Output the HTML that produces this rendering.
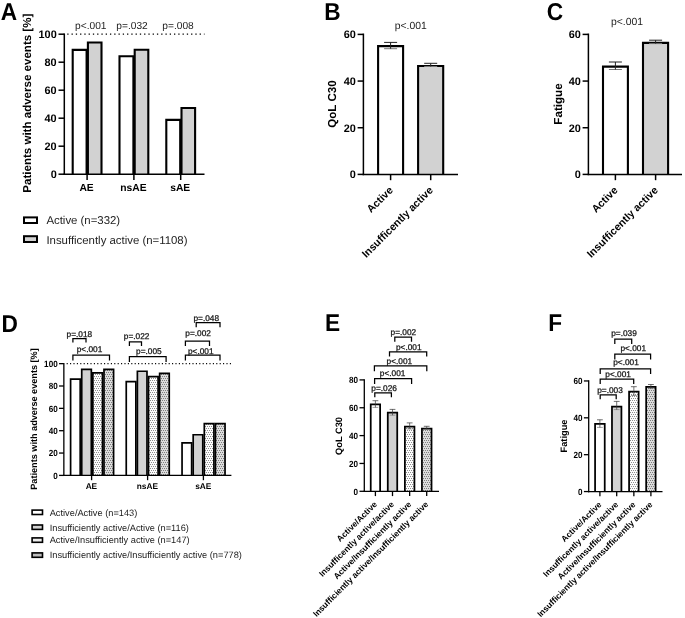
<!DOCTYPE html>
<html><head><meta charset="utf-8"><title>Figure</title>
<style>html,body{margin:0;padding:0;background:#fff;}svg{display:block;text-rendering:geometricPrecision;will-change:transform;transform:translateZ(0);font-family:'Liberation Sans', sans-serif;}</style></head><body>
<svg width="685" height="618" viewBox="0 0 685 618">
<defs>
<pattern id="dotL" width="2" height="4" patternUnits="userSpaceOnUse"><rect width="2" height="4" fill="#fdfdfd"/><rect x="0" y="0" width="1" height="1" fill="#8e8e8e"/><rect x="1" y="2" width="1" height="1" fill="#8e8e8e"/></pattern>
<pattern id="dotG" width="2" height="4" patternUnits="userSpaceOnUse"><rect width="2" height="4" fill="#dcdcdc"/><rect x="0" y="0" width="1" height="1" fill="#7e7e7e"/><rect x="1" y="2" width="1" height="1" fill="#7e7e7e"/></pattern>
</defs>
<rect width="685" height="618" fill="#fff"/>
<text x="0.8" y="19.9" font-size="24.4" font-weight="bold" text-anchor="start" textLength="16.38" lengthAdjust="spacingAndGlyphs" fill="#000">A</text>
<line x1="67.25" y1="34.2" x2="204.5" y2="34.2" stroke="#000" stroke-width="1.2" stroke-dasharray="1.3 2.97" stroke-linecap="butt"/>
<path d="M72.7 174.2V49.9H86.6V174.2" fill="#fff" stroke="#000" stroke-width="2.1" stroke-linejoin="miter"/>
<path d="M87.9 174.2V42.5H101.5V174.2" fill="#d2d2d2" stroke="#000" stroke-width="2.1" stroke-linejoin="miter"/>
<path d="M119.5 174.2V56.2H133.4V174.2" fill="#fff" stroke="#000" stroke-width="2.1" stroke-linejoin="miter"/>
<path d="M134.7 174.2V49.8H148.3V174.2" fill="#d2d2d2" stroke="#000" stroke-width="2.1" stroke-linejoin="miter"/>
<path d="M166.3 174.2V119.9H180.2V174.2" fill="#fff" stroke="#000" stroke-width="2.1" stroke-linejoin="miter"/>
<path d="M181.5 174.2V108.0H195.1V174.2" fill="#d2d2d2" stroke="#000" stroke-width="2.1" stroke-linejoin="miter"/>
<line x1="64.3" y1="33.45" x2="64.3" y2="174.95" stroke="#000" stroke-width="1.5" stroke-linecap="butt"/>
<line x1="63.55" y1="174.2" x2="204.5" y2="174.2" stroke="#000" stroke-width="1.5" stroke-linecap="butt"/>
<line x1="58.5" y1="174.2" x2="64.3" y2="174.2" stroke="#000" stroke-width="1.5" stroke-linecap="butt"/>
<text x="56.7" y="178.1" font-size="10.9" font-weight="bold" text-anchor="end" fill="#000">0</text>
<line x1="58.5" y1="146.2" x2="64.3" y2="146.2" stroke="#000" stroke-width="1.5" stroke-linecap="butt"/>
<text x="56.7" y="150.1" font-size="10.9" font-weight="bold" text-anchor="end" fill="#000">20</text>
<line x1="58.5" y1="118.19999999999999" x2="64.3" y2="118.19999999999999" stroke="#000" stroke-width="1.5" stroke-linecap="butt"/>
<text x="56.7" y="122.1" font-size="10.9" font-weight="bold" text-anchor="end" fill="#000">40</text>
<line x1="58.5" y1="90.19999999999999" x2="64.3" y2="90.19999999999999" stroke="#000" stroke-width="1.5" stroke-linecap="butt"/>
<text x="56.7" y="94.1" font-size="10.9" font-weight="bold" text-anchor="end" fill="#000">60</text>
<line x1="58.5" y1="62.19999999999999" x2="64.3" y2="62.19999999999999" stroke="#000" stroke-width="1.5" stroke-linecap="butt"/>
<text x="56.7" y="66.1" font-size="10.9" font-weight="bold" text-anchor="end" fill="#000">80</text>
<line x1="58.5" y1="34.19999999999999" x2="64.3" y2="34.19999999999999" stroke="#000" stroke-width="1.5" stroke-linecap="butt"/>
<text x="56.7" y="38.09999999999999" font-size="10.9" font-weight="bold" text-anchor="end" fill="#000">100</text>
<line x1="87.1" y1="174.2" x2="87.1" y2="180.0" stroke="#000" stroke-width="1.5" stroke-linecap="butt"/>
<text x="86.6" y="191" font-size="10.3" font-weight="bold" text-anchor="middle" fill="#000">AE</text>
<line x1="133.9" y1="174.2" x2="133.9" y2="180.0" stroke="#000" stroke-width="1.5" stroke-linecap="butt"/>
<text x="133.4" y="191" font-size="10.3" font-weight="bold" text-anchor="middle" fill="#000">nsAE</text>
<line x1="180.7" y1="174.2" x2="180.7" y2="180.0" stroke="#000" stroke-width="1.5" stroke-linecap="butt"/>
<text x="180.2" y="191" font-size="10.3" font-weight="bold" text-anchor="middle" fill="#000">sAE</text>
<text x="90.8" y="28.6" font-size="10.2" text-anchor="middle" fill="#222">p&lt;.001</text>
<text x="132" y="28.6" font-size="10.2" text-anchor="middle" fill="#222">p=.032</text>
<text x="178" y="28.6" font-size="10.2" text-anchor="middle" fill="#222">p=.008</text>
<text x="31.0" y="103.2" font-size="11.55" font-weight="bold" text-anchor="middle" transform="rotate(-90 31.0 103.2)" fill="#000">Patients with adverse events [%]</text>
<rect x="24.0" y="217.4" width="13.0" height="5.6" fill="#fff" stroke="#000" stroke-width="2.0"/>
<text x="46.4" y="224.3" font-size="11.4" text-anchor="start" fill="#222">Active (n=332)</text>
<rect x="24.0" y="236.2" width="13.0" height="5.8" fill="#d2d2d2" stroke="#000" stroke-width="2.0"/>
<text x="46.4" y="243.6" font-size="11.4" text-anchor="start" fill="#222">Insufficently active (n=1108)</text>
<text x="324.3" y="19.9" font-size="24.4" font-weight="bold" text-anchor="start" textLength="16.38" lengthAdjust="spacingAndGlyphs" fill="#000">B</text>
<path d="M378.1 174.4V46.1H403.1V174.4" fill="#fff" stroke="#000" stroke-width="2.1" stroke-linejoin="miter"/>
<path d="M418.1 174.4V66.0H443.2V174.4" fill="#d2d2d2" stroke="#000" stroke-width="2.1" stroke-linejoin="miter"/>
<path d="M384.1 48.7H397.1" fill="none" stroke="#777" stroke-width="1.0"/>
<path d="M384.1 42.4H397.1M390.6 42.4V48.7" fill="none" stroke="#222" stroke-width="1.0"/>
<path d="M424.2 66.5H437.2" fill="none" stroke="#777" stroke-width="1.0"/>
<path d="M424.2 63.3H437.2M430.7 63.3V66.5" fill="none" stroke="#222" stroke-width="1.0"/>
<line x1="363.4" y1="33.55" x2="363.4" y2="175.15" stroke="#000" stroke-width="1.5" stroke-linecap="butt"/>
<line x1="362.65" y1="174.4" x2="458" y2="174.4" stroke="#000" stroke-width="1.5" stroke-linecap="butt"/>
<line x1="357.59999999999997" y1="174.4" x2="363.4" y2="174.4" stroke="#000" stroke-width="1.5" stroke-linecap="butt"/>
<text x="355.79999999999995" y="178.3" font-size="10.9" font-weight="bold" text-anchor="end" fill="#000">0</text>
<line x1="357.59999999999997" y1="127.73333333333335" x2="363.4" y2="127.73333333333335" stroke="#000" stroke-width="1.5" stroke-linecap="butt"/>
<text x="355.79999999999995" y="131.63333333333335" font-size="10.9" font-weight="bold" text-anchor="end" fill="#000">20</text>
<line x1="357.59999999999997" y1="81.06666666666668" x2="363.4" y2="81.06666666666668" stroke="#000" stroke-width="1.5" stroke-linecap="butt"/>
<text x="355.79999999999995" y="84.96666666666668" font-size="10.9" font-weight="bold" text-anchor="end" fill="#000">40</text>
<line x1="357.59999999999997" y1="34.400000000000006" x2="363.4" y2="34.400000000000006" stroke="#000" stroke-width="1.5" stroke-linecap="butt"/>
<text x="355.79999999999995" y="38.300000000000004" font-size="10.9" font-weight="bold" text-anchor="end" fill="#000">60</text>
<line x1="390.6" y1="174.4" x2="390.6" y2="180.20000000000002" stroke="#000" stroke-width="1.5" stroke-linecap="butt"/>
<text x="393.6" y="190.8" font-size="10.6" font-weight="bold" text-anchor="end" transform="rotate(-45 393.6 190.8)" fill="#000">Active</text>
<line x1="430.7" y1="174.4" x2="430.7" y2="180.20000000000002" stroke="#000" stroke-width="1.5" stroke-linecap="butt"/>
<text x="433.7" y="190.8" font-size="10.6" font-weight="bold" text-anchor="end" transform="rotate(-45 433.7 190.8)" fill="#000">Insufficently active</text>
<text x="410.7" y="28.6" font-size="10.4" text-anchor="middle" fill="#222">p&lt;.001</text>
<text x="336.2" y="104" font-size="11.6" font-weight="bold" text-anchor="middle" transform="rotate(-90 336.2 104)" fill="#000">QoL C30</text>
<text x="546.8" y="19.9" font-size="24.4" font-weight="bold" text-anchor="start" textLength="16.38" lengthAdjust="spacingAndGlyphs" fill="#000">C</text>
<path d="M603.0 174.4V66.6H627.9V174.4" fill="#fff" stroke="#000" stroke-width="2.1" stroke-linejoin="miter"/>
<path d="M643.0 174.4V42.9H668.1V174.4" fill="#d2d2d2" stroke="#000" stroke-width="2.1" stroke-linejoin="miter"/>
<path d="M608.9 69.5H621.9" fill="none" stroke="#777" stroke-width="1.0"/>
<path d="M608.9 62.0H621.9M615.4 62.0V69.5" fill="none" stroke="#222" stroke-width="1.0"/>
<path d="M649.1 43.6H662.1" fill="none" stroke="#777" stroke-width="1.0"/>
<path d="M649.1 40.2H662.1M655.6 40.2V43.6" fill="none" stroke="#222" stroke-width="1.0"/>
<line x1="588.4" y1="33.55" x2="588.4" y2="175.15" stroke="#000" stroke-width="1.5" stroke-linecap="butt"/>
<line x1="587.65" y1="174.4" x2="682" y2="174.4" stroke="#000" stroke-width="1.5" stroke-linecap="butt"/>
<line x1="582.6" y1="174.4" x2="588.4" y2="174.4" stroke="#000" stroke-width="1.5" stroke-linecap="butt"/>
<text x="580.8" y="178.3" font-size="10.9" font-weight="bold" text-anchor="end" fill="#000">0</text>
<line x1="582.6" y1="127.73333333333335" x2="588.4" y2="127.73333333333335" stroke="#000" stroke-width="1.5" stroke-linecap="butt"/>
<text x="580.8" y="131.63333333333335" font-size="10.9" font-weight="bold" text-anchor="end" fill="#000">20</text>
<line x1="582.6" y1="81.06666666666668" x2="588.4" y2="81.06666666666668" stroke="#000" stroke-width="1.5" stroke-linecap="butt"/>
<text x="580.8" y="84.96666666666668" font-size="10.9" font-weight="bold" text-anchor="end" fill="#000">40</text>
<line x1="582.6" y1="34.400000000000006" x2="588.4" y2="34.400000000000006" stroke="#000" stroke-width="1.5" stroke-linecap="butt"/>
<text x="580.8" y="38.300000000000004" font-size="10.9" font-weight="bold" text-anchor="end" fill="#000">60</text>
<line x1="615.4" y1="174.4" x2="615.4" y2="180.20000000000002" stroke="#000" stroke-width="1.5" stroke-linecap="butt"/>
<text x="618.4" y="190.8" font-size="10.6" font-weight="bold" text-anchor="end" transform="rotate(-45 618.4 190.8)" fill="#000">Active</text>
<line x1="655.6" y1="174.4" x2="655.6" y2="180.20000000000002" stroke="#000" stroke-width="1.5" stroke-linecap="butt"/>
<text x="658.6" y="190.8" font-size="10.6" font-weight="bold" text-anchor="end" transform="rotate(-45 658.6 190.8)" fill="#000">Insufficently active</text>
<text x="627" y="25.3" font-size="10.4" text-anchor="middle" fill="#222">p&lt;.001</text>
<text x="561.6" y="104" font-size="11.6" font-weight="bold" text-anchor="middle" transform="rotate(-90 561.6 104)" fill="#000">Fatigue</text>
<text x="1.6" y="331.5" font-size="24.4" font-weight="bold" text-anchor="start" textLength="16.38" lengthAdjust="spacingAndGlyphs" fill="#000">D</text>
<line x1="66.65" y1="363.65" x2="231.4" y2="363.65" stroke="#000" stroke-width="1.1" stroke-dasharray="1.1 2.3" stroke-linecap="butt"/>
<path d="M70.6 475.4V379.15H80.2V475.4" fill="#fff" stroke="#000" stroke-width="1.7" stroke-linejoin="miter"/>
<path d="M81.73 475.4V369.45H91.33V475.4" fill="#d2d2d2" stroke="#000" stroke-width="1.7" stroke-linejoin="miter"/>
<path d="M92.86 475.4V372.95H102.46V475.4" fill="url(#dotL)" stroke="#000" stroke-width="1.7" stroke-linejoin="miter"/>
<path d="M103.99 475.4V369.45H113.59V475.4" fill="url(#dotG)" stroke="#000" stroke-width="1.7" stroke-linejoin="miter"/>
<path d="M126.25 475.4V381.65H135.85V475.4" fill="#fff" stroke="#000" stroke-width="1.7" stroke-linejoin="miter"/>
<path d="M137.38 475.4V371.25H146.98V475.4" fill="#d2d2d2" stroke="#000" stroke-width="1.7" stroke-linejoin="miter"/>
<path d="M148.51 475.4V376.65H158.11V475.4" fill="url(#dotL)" stroke="#000" stroke-width="1.7" stroke-linejoin="miter"/>
<path d="M159.64 475.4V373.35H169.24V475.4" fill="url(#dotG)" stroke="#000" stroke-width="1.7" stroke-linejoin="miter"/>
<path d="M182.05 475.4V442.85H191.65V475.4" fill="#fff" stroke="#000" stroke-width="1.7" stroke-linejoin="miter"/>
<path d="M193.18 475.4V434.75H202.78V475.4" fill="#d2d2d2" stroke="#000" stroke-width="1.7" stroke-linejoin="miter"/>
<path d="M204.31 475.4V423.65H213.91V475.4" fill="url(#dotL)" stroke="#000" stroke-width="1.7" stroke-linejoin="miter"/>
<path d="M215.44 475.4V423.65H225.04V475.4" fill="url(#dotG)" stroke="#000" stroke-width="1.7" stroke-linejoin="miter"/>
<line x1="63.85" y1="363.0" x2="63.85" y2="476.04999999999995" stroke="#000" stroke-width="1.3" stroke-linecap="butt"/>
<line x1="63.2" y1="475.4" x2="231.4" y2="475.4" stroke="#000" stroke-width="1.3" stroke-linecap="butt"/>
<line x1="59.050000000000004" y1="475.4" x2="63.85" y2="475.4" stroke="#000" stroke-width="1.3" stroke-linecap="butt"/>
<text transform="translate(57.65 478.7) scale(0.9 1)" font-size="9.0" font-weight="bold" text-anchor="end" fill="#000">0</text>
<line x1="59.050000000000004" y1="453.04999999999995" x2="63.85" y2="453.04999999999995" stroke="#000" stroke-width="1.3" stroke-linecap="butt"/>
<text transform="translate(57.65 456.34999999999997) scale(0.9 1)" font-size="9.0" font-weight="bold" text-anchor="end" fill="#000">20</text>
<line x1="59.050000000000004" y1="430.7" x2="63.85" y2="430.7" stroke="#000" stroke-width="1.3" stroke-linecap="butt"/>
<text transform="translate(57.65 434.0) scale(0.9 1)" font-size="9.0" font-weight="bold" text-anchor="end" fill="#000">40</text>
<line x1="59.050000000000004" y1="408.34999999999997" x2="63.85" y2="408.34999999999997" stroke="#000" stroke-width="1.3" stroke-linecap="butt"/>
<text transform="translate(57.65 411.65) scale(0.9 1)" font-size="9.0" font-weight="bold" text-anchor="end" fill="#000">60</text>
<line x1="59.050000000000004" y1="386.0" x2="63.85" y2="386.0" stroke="#000" stroke-width="1.3" stroke-linecap="butt"/>
<text transform="translate(57.65 389.3) scale(0.9 1)" font-size="9.0" font-weight="bold" text-anchor="end" fill="#000">80</text>
<line x1="59.050000000000004" y1="363.65" x2="63.85" y2="363.65" stroke="#000" stroke-width="1.3" stroke-linecap="butt"/>
<text transform="translate(57.65 366.95) scale(0.9 1)" font-size="9.0" font-weight="bold" text-anchor="end" fill="#000">100</text>
<line x1="91.6" y1="475.4" x2="91.6" y2="480.2" stroke="#000" stroke-width="1.3" stroke-linecap="butt"/>
<text x="91.39999999999999" y="489.2" font-size="8.3" font-weight="bold" text-anchor="middle" fill="#000">AE</text>
<line x1="147.6" y1="475.4" x2="147.6" y2="480.2" stroke="#000" stroke-width="1.3" stroke-linecap="butt"/>
<text x="147.4" y="489.2" font-size="8.3" font-weight="bold" text-anchor="middle" fill="#000">nsAE</text>
<line x1="203.4" y1="475.4" x2="203.4" y2="480.2" stroke="#000" stroke-width="1.3" stroke-linecap="butt"/>
<text x="203.20000000000002" y="489.2" font-size="8.3" font-weight="bold" text-anchor="middle" fill="#000">sAE</text>
<text x="37.2" y="419" font-size="9.15" font-weight="bold" text-anchor="middle" transform="rotate(-90 37.2 419)" fill="#000">Patients with adverse events [%]</text>
<path d="M72.9 342.5V338.6H86.0V342.5" fill="none" stroke="#000" stroke-width="1.25"/>
<text x="79.4" y="337.2" font-size="8.3" stroke="#111" stroke-width="0.25" text-anchor="middle" fill="#111">p=.018</text>
<path d="M72.9 360.5V355.2H109.5V360.5" fill="none" stroke="#000" stroke-width="1.25"/>
<text x="89.5" y="352.4" font-size="8.3" stroke="#111" stroke-width="0.25" text-anchor="middle" fill="#111">p&lt;.001</text>
<path d="M129.4 346.0V341.9H141.5V346.0" fill="none" stroke="#000" stroke-width="1.25"/>
<text x="136.6" y="339.4" font-size="8.3" stroke="#111" stroke-width="0.25" text-anchor="middle" fill="#111">p=.022</text>
<path d="M129.4 362.0V356.5H166.1V362.0" fill="none" stroke="#000" stroke-width="1.25"/>
<text x="148.9" y="354.4" font-size="8.3" stroke="#111" stroke-width="0.25" text-anchor="middle" fill="#111">p=.005</text>
<path d="M196.2 327.2V322.5H220.0V327.2" fill="none" stroke="#000" stroke-width="1.25"/>
<text x="206.3" y="321.1" font-size="8.3" stroke="#111" stroke-width="0.25" text-anchor="middle" fill="#111">p=.048</text>
<path d="M185.4 346.0V341.1H209.5V346.0" fill="none" stroke="#000" stroke-width="1.25"/>
<text x="198.1" y="335.8" font-size="8.3" stroke="#111" stroke-width="0.25" text-anchor="middle" fill="#111">p=.002</text>
<path d="M185.4 360.5V355.2H220.0V360.5" fill="none" stroke="#000" stroke-width="1.25"/>
<text x="200.8" y="353.8" font-size="8.3" stroke="#111" stroke-width="0.25" text-anchor="middle" fill="#111">p&lt;.001</text>
<rect x="32.1" y="510.09999999999997" width="10.4" height="4.4" fill="#fff" stroke="#000" stroke-width="1.6"/>
<text x="49.7" y="515.5" font-size="9.25" text-anchor="start" fill="#1a1a1a">Active/Active (n=143)</text>
<rect x="32.1" y="525.0" width="10.4" height="4.4" fill="#d2d2d2" stroke="#000" stroke-width="1.6"/>
<text x="49.7" y="530.8" font-size="9.25" text-anchor="start" fill="#1a1a1a">Insufficiently active/Active (n=116)</text>
<rect x="32.1" y="537.9" width="10.4" height="4.4" fill="#eeeeee" stroke="#000" stroke-width="1.6"/>
<text x="49.7" y="543.4" font-size="9.25" text-anchor="start" fill="#1a1a1a">Active/Insufficiently active (n=147)</text>
<rect x="32.1" y="552.9" width="10.4" height="4.4" fill="#bdbdbd" stroke="#000" stroke-width="1.6"/>
<text x="49.7" y="558.3" font-size="9.25" text-anchor="start" fill="#1a1a1a">Insufficiently active/Insufficiently active (n=778)</text>
<text x="325.0" y="331.4" font-size="24.4" font-weight="bold" text-anchor="start" textLength="15.14" lengthAdjust="spacingAndGlyphs" fill="#000">E</text>
<path d="M370.73 491.3V404.27H380.12V491.3" fill="#fff" stroke="#000" stroke-width="1.75" stroke-linejoin="miter"/>
<path d="M387.77 491.3V412.57H397.23V491.3" fill="#d2d2d2" stroke="#000" stroke-width="1.75" stroke-linejoin="miter"/>
<path d="M404.88 491.3V426.68H414.43V491.3" fill="url(#dotL)" stroke="#000" stroke-width="1.75" stroke-linejoin="miter"/>
<path d="M421.93 491.3V428.68H431.52V491.3" fill="url(#dotG)" stroke="#000" stroke-width="1.75" stroke-linejoin="miter"/>
<path d="M372.5 407.4H378.29999999999995" fill="none" stroke="#777" stroke-width="0.7"/>
<path d="M372.5 400.7H378.29999999999995M375.4 400.7V407.4" fill="none" stroke="#333" stroke-width="0.7"/>
<path d="M389.6 415.2H395.4" fill="none" stroke="#777" stroke-width="0.7"/>
<path d="M389.6 409.4H395.4M392.5 409.4V415.2" fill="none" stroke="#333" stroke-width="0.7"/>
<path d="M406.75 429.0H412.54999999999995" fill="none" stroke="#777" stroke-width="0.7"/>
<path d="M406.75 422.9H412.54999999999995M409.65 422.9V429.0" fill="none" stroke="#333" stroke-width="0.7"/>
<path d="M423.8 429.3H429.59999999999997" fill="none" stroke="#777" stroke-width="0.7"/>
<path d="M423.8 426.3H429.59999999999997M426.7 426.3V429.3" fill="none" stroke="#333" stroke-width="0.7"/>
<line x1="364.3" y1="379.25" x2="364.3" y2="491.95" stroke="#000" stroke-width="1.3" stroke-linecap="butt"/>
<line x1="363.65000000000003" y1="491.3" x2="439" y2="491.3" stroke="#000" stroke-width="1.3" stroke-linecap="butt"/>
<line x1="359.5" y1="491.3" x2="364.3" y2="491.3" stroke="#000" stroke-width="1.3" stroke-linecap="butt"/>
<text transform="translate(358.1 494.6) scale(0.9 1)" font-size="9.0" font-weight="bold" text-anchor="end" fill="#000">0</text>
<line x1="359.5" y1="463.45" x2="364.3" y2="463.45" stroke="#000" stroke-width="1.3" stroke-linecap="butt"/>
<text transform="translate(358.1 466.75) scale(0.9 1)" font-size="9.0" font-weight="bold" text-anchor="end" fill="#000">20</text>
<line x1="359.5" y1="435.6" x2="364.3" y2="435.6" stroke="#000" stroke-width="1.3" stroke-linecap="butt"/>
<text transform="translate(358.1 438.90000000000003) scale(0.9 1)" font-size="9.0" font-weight="bold" text-anchor="end" fill="#000">40</text>
<line x1="359.5" y1="407.75" x2="364.3" y2="407.75" stroke="#000" stroke-width="1.3" stroke-linecap="butt"/>
<text transform="translate(358.1 411.05) scale(0.9 1)" font-size="9.0" font-weight="bold" text-anchor="end" fill="#000">60</text>
<line x1="359.5" y1="379.9" x2="364.3" y2="379.9" stroke="#000" stroke-width="1.3" stroke-linecap="butt"/>
<text transform="translate(358.1 383.2) scale(0.9 1)" font-size="9.0" font-weight="bold" text-anchor="end" fill="#000">80</text>
<line x1="375.4" y1="491.3" x2="375.4" y2="496.1" stroke="#000" stroke-width="1.3" stroke-linecap="butt"/>
<text x="377.59999999999997" y="504.90000000000003" font-size="8.45" font-weight="bold" text-anchor="end" transform="rotate(-45 377.59999999999997 504.90000000000003)" fill="#000">Active/Active</text>
<line x1="392.5" y1="491.3" x2="392.5" y2="496.1" stroke="#000" stroke-width="1.3" stroke-linecap="butt"/>
<text x="394.7" y="504.90000000000003" font-size="8.45" font-weight="bold" text-anchor="end" transform="rotate(-45 394.7 504.90000000000003)" fill="#000">Insufficently active/active</text>
<line x1="409.65" y1="491.3" x2="409.65" y2="496.1" stroke="#000" stroke-width="1.3" stroke-linecap="butt"/>
<text x="411.84999999999997" y="504.90000000000003" font-size="8.45" font-weight="bold" text-anchor="end" transform="rotate(-45 411.84999999999997 504.90000000000003)" fill="#000">Active/Insufficiently active</text>
<line x1="426.7" y1="491.3" x2="426.7" y2="496.1" stroke="#000" stroke-width="1.3" stroke-linecap="butt"/>
<text x="428.9" y="504.90000000000003" font-size="8.45" font-weight="bold" text-anchor="end" transform="rotate(-45 428.9 504.90000000000003)" fill="#000">Insufficiently active/Insufficiently active</text>
<path d="M374.8 397.2V392.8H391.4V397.2" fill="none" stroke="#000" stroke-width="1.25"/>
<text x="384.1" y="390.8" font-size="8.3" stroke="#111" stroke-width="0.25" text-anchor="middle" fill="#111">p=.026</text>
<path d="M374.6 384.1V378.6H411.6V384.1" fill="none" stroke="#000" stroke-width="1.25"/>
<text x="392.6" y="376.2" font-size="8.3" stroke="#111" stroke-width="0.25" text-anchor="middle" fill="#111">p&lt;.001</text>
<path d="M374.4 371.3V365.9H426.8V371.3" fill="none" stroke="#000" stroke-width="1.25"/>
<text x="399.4" y="364.3" font-size="8.3" stroke="#111" stroke-width="0.25" text-anchor="middle" fill="#111">p&lt;.001</text>
<path d="M389.5 356.6V351.8H426.7V356.6" fill="none" stroke="#000" stroke-width="1.25"/>
<text x="408.8" y="349.7" font-size="8.3" stroke="#111" stroke-width="0.25" text-anchor="middle" fill="#111">p&lt;.001</text>
<path d="M394.8 341.8V337.2H411.5V341.8" fill="none" stroke="#000" stroke-width="1.25"/>
<text x="403.4" y="334.6" font-size="8.3" stroke="#111" stroke-width="0.25" text-anchor="middle" fill="#111">p=.002</text>
<text x="341.8" y="436.0" font-size="9.3" font-weight="bold" text-anchor="middle" transform="rotate(-90 341.8 436.0)" fill="#000">QoL C30</text>
<text x="548.3" y="331.4" font-size="24.4" font-weight="bold" text-anchor="start" textLength="13.86" lengthAdjust="spacingAndGlyphs" fill="#000">F</text>
<path d="M595.08 491.55V423.98H604.73V491.55" fill="#fff" stroke="#000" stroke-width="1.75" stroke-linejoin="miter"/>
<path d="M611.98 491.55V406.57H621.42V491.55" fill="#d2d2d2" stroke="#000" stroke-width="1.75" stroke-linejoin="miter"/>
<path d="M629.08 491.55V391.68H638.62V491.55" fill="url(#dotL)" stroke="#000" stroke-width="1.75" stroke-linejoin="miter"/>
<path d="M646.17 491.55V386.77H655.62V491.55" fill="url(#dotG)" stroke="#000" stroke-width="1.75" stroke-linejoin="miter"/>
<path d="M597.0 427.4H602.8" fill="none" stroke="#777" stroke-width="0.7"/>
<path d="M597.0 419.8H602.8M599.9 419.8V427.4" fill="none" stroke="#333" stroke-width="0.7"/>
<path d="M613.8000000000001 409.6H619.6" fill="none" stroke="#777" stroke-width="0.7"/>
<path d="M613.8000000000001 401.4H619.6M616.7 401.4V409.6" fill="none" stroke="#333" stroke-width="0.7"/>
<path d="M630.95 395.5H636.75" fill="none" stroke="#777" stroke-width="0.7"/>
<path d="M630.95 386.7H636.75M633.85 386.7V395.5" fill="none" stroke="#333" stroke-width="0.7"/>
<path d="M648.0 388.6H653.8" fill="none" stroke="#777" stroke-width="0.7"/>
<path d="M648.0 384.5H653.8M650.9 384.5V388.6" fill="none" stroke="#333" stroke-width="0.7"/>
<line x1="588.7" y1="380.3" x2="588.7" y2="492.2" stroke="#000" stroke-width="1.3" stroke-linecap="butt"/>
<line x1="588.0500000000001" y1="491.55" x2="662.5" y2="491.55" stroke="#000" stroke-width="1.3" stroke-linecap="butt"/>
<line x1="583.9000000000001" y1="491.55" x2="588.7" y2="491.55" stroke="#000" stroke-width="1.3" stroke-linecap="butt"/>
<text transform="translate(582.5 494.85) scale(0.9 1)" font-size="9.0" font-weight="bold" text-anchor="end" fill="#000">0</text>
<line x1="583.9000000000001" y1="454.68333333333334" x2="588.7" y2="454.68333333333334" stroke="#000" stroke-width="1.3" stroke-linecap="butt"/>
<text transform="translate(582.5 457.98333333333335) scale(0.9 1)" font-size="9.0" font-weight="bold" text-anchor="end" fill="#000">20</text>
<line x1="583.9000000000001" y1="417.81666666666666" x2="588.7" y2="417.81666666666666" stroke="#000" stroke-width="1.3" stroke-linecap="butt"/>
<text transform="translate(582.5 421.1166666666667) scale(0.9 1)" font-size="9.0" font-weight="bold" text-anchor="end" fill="#000">40</text>
<line x1="583.9000000000001" y1="380.95" x2="588.7" y2="380.95" stroke="#000" stroke-width="1.3" stroke-linecap="butt"/>
<text transform="translate(582.5 384.25) scale(0.9 1)" font-size="9.0" font-weight="bold" text-anchor="end" fill="#000">60</text>
<line x1="599.9" y1="491.55" x2="599.9" y2="496.35" stroke="#000" stroke-width="1.3" stroke-linecap="butt"/>
<text x="602.1" y="505.15000000000003" font-size="8.45" font-weight="bold" text-anchor="end" transform="rotate(-45 602.1 505.15000000000003)" fill="#000">Active/Active</text>
<line x1="616.7" y1="491.55" x2="616.7" y2="496.35" stroke="#000" stroke-width="1.3" stroke-linecap="butt"/>
<text x="618.9000000000001" y="505.15000000000003" font-size="8.45" font-weight="bold" text-anchor="end" transform="rotate(-45 618.9000000000001 505.15000000000003)" fill="#000">Insufficently active/active</text>
<line x1="633.85" y1="491.55" x2="633.85" y2="496.35" stroke="#000" stroke-width="1.3" stroke-linecap="butt"/>
<text x="636.0500000000001" y="505.15000000000003" font-size="8.45" font-weight="bold" text-anchor="end" transform="rotate(-45 636.0500000000001 505.15000000000003)" fill="#000">Active/Insufficiently active</text>
<line x1="650.9" y1="491.55" x2="650.9" y2="496.35" stroke="#000" stroke-width="1.3" stroke-linecap="butt"/>
<text x="653.1" y="505.15000000000003" font-size="8.45" font-weight="bold" text-anchor="end" transform="rotate(-45 653.1 505.15000000000003)" fill="#000">Insufficiently active/Insufficiently active</text>
<path d="M600.2 399.3V394.9H616.2V399.3" fill="none" stroke="#000" stroke-width="1.25"/>
<text x="610.0" y="392.9" font-size="8.3" stroke="#111" stroke-width="0.25" text-anchor="middle" fill="#111">p=.003</text>
<path d="M600.2 384.1V379.2H633.7V384.1" fill="none" stroke="#000" stroke-width="1.25"/>
<text x="618.1" y="376.9" font-size="8.3" stroke="#111" stroke-width="0.25" text-anchor="middle" fill="#111">p&lt;.001</text>
<path d="M600.2 373.9V368.9H650.6V373.9" fill="none" stroke="#000" stroke-width="1.25"/>
<text x="626.0" y="365.4" font-size="8.3" stroke="#111" stroke-width="0.25" text-anchor="middle" fill="#111">p&lt;.001</text>
<path d="M614.8 359.4V354.1H650.6V359.4" fill="none" stroke="#000" stroke-width="1.25"/>
<text x="633.2" y="351.2" font-size="8.3" stroke="#111" stroke-width="0.25" text-anchor="middle" fill="#111">p&lt;.001</text>
<path d="M614.8 343.9V339.0H631.7V343.9" fill="none" stroke="#000" stroke-width="1.25"/>
<text x="624.0" y="335.5" font-size="8.3" stroke="#111" stroke-width="0.25" text-anchor="middle" fill="#111">p=.039</text>
<text x="566.6" y="436" font-size="9.3" font-weight="bold" text-anchor="middle" transform="rotate(-90 566.6 436)" fill="#000">Fatigue</text>
</svg></body></html>
